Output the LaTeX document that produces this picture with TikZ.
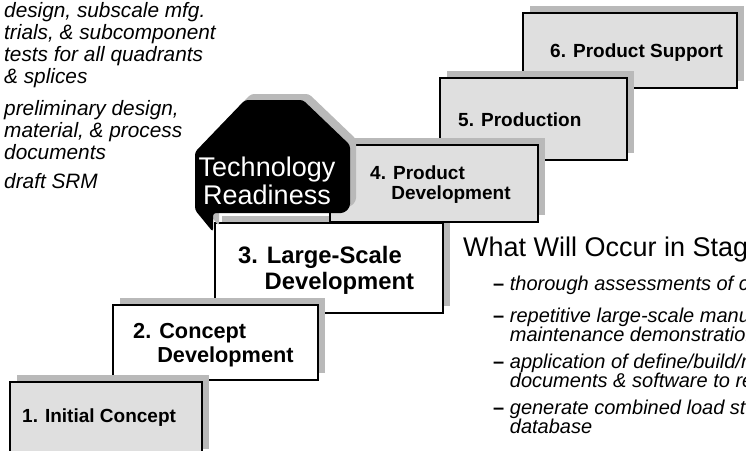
\documentclass[tikz,border=0pt]{standalone}
\usepackage{fontspec}
\setmainfont{Liberation Sans}
\usetikzlibrary{shadows}
\tikzset{
  stagebox/.style  = {draw, line width=1.4pt, inner sep=0pt,
                      general shadow={shadow xshift=7pt, shadow yshift=7pt, fill=gray!55}},
  dotfill/.style   = {fill=gray!25},
  blankfill/.style = {fill=white},
  stagetxt/.style  = {inner sep=0pt, anchor=west, align=left,
                      font=\bfseries\fontsize{19}{20}\selectfont},
  notetxt/.style   = {inner sep=0pt, anchor=base west, align=left,
                      font=\itshape\fontsize{20.8}{22}\selectfont},
  pointtxt/.style  = {inner sep=0pt, anchor=west, align=left,
                      font=\itshape\fontsize{20}{19}\selectfont}
}
\newcommand{\pdash}{{\upshape\bfseries\textendash}\ }

\begin{document}
\begin{tikzpicture}[x=1pt, y=-1pt]
  \useasboundingbox (0,0) rectangle (746,450);
  \clip (0,0) rectangle (746,450);

  % stages, back to front
  \node[stagebox, dotfill, minimum width=214, minimum height=75] (s6) at (630,50.5) {};
  \node[stagetxt] (t6) at (550,53) {6. Product Support};
  \node[stagebox, dotfill, minimum width=187, minimum height=82] (s5) at (533.5,119) {};
  \node[stagetxt] (t5) at (458,120) {5. Production};
  \node[stagebox, blankfill, minimum width=228, minimum height=90] (s3) at (329,268) {};
  \node[stagetxt, font=\bfseries\fontsize{23.8}{26}\selectfont] (t3) at (238,270)
       {3. Large-Scale\\\phantom{3.\ }Development};
  \node[stagebox, dotfill, minimum width=208, minimum height=77] (s4) at (434,183.5) {};
  \node[stagetxt] (t4) at (370,185) {4. Product\\\phantom{4.\ }Development};
  \node[stagebox, blankfill, minimum width=205, minimum height=75] (s2) at (215.5,342.5) {};
  \node[stagetxt, font=\bfseries\fontsize{21.7}{24}\selectfont] (t2) at (133,345)
       {2. Concept\\\phantom{2.\ }Development};
  \node[stagebox, dotfill, minimum width=192, minimum height=74] (s1) at (106,419) {};
  \node[stagetxt] (t1) at (22,418) {1. Initial Concept};

  % technology readiness plate
  \fill[gray!55, rounded corners=3pt, shift={(6,-6)}]
    (245,100) -- (303,100) -- (350,145) -- (350,207) -- (344,213) -- (213,213)
    -- (213,232) -- (195,210) -- (195,152) -- cycle;
  \fill[black, rounded corners=3pt]
    (245,100) -- (303,100) -- (350,145) -- (350,207) -- (344,213) -- (213,213)
    -- (213,232) -- (195,210) -- (195,152) -- cycle;
  \node[inner sep=0pt, align=center, text=white, font=\fontsize{27}{28}\selectfont]
       (tr) at (267,181) {Technology\\Readiness};

  % notes on the left (base = last line)
  \node[notetxt] (n1) at (4,83) {design, subscale mfg.\\trials, \& subcomponent\\tests for all quadrants\\\& splices};
  \node[notetxt] (n2) at (4,159) {preliminary design,\\material, \& process\\documents};
  \node[notetxt] (n3) at (4,188) {draft SRM};

  % what happens in the stage
  \node[inner sep=0pt, anchor=west, font=\fontsize{27}{28}\selectfont] (hd) at (463,250)
       {What Will Occur in Stag};
  \node[pointtxt] (p1) at (493,285) {\pdash thorough assessments of c};
  \node[pointtxt] (p2) at (493,325) {\pdash repetitive large-scale manu\\\phantom{\pdash}maintenance demonstration};
  \node[pointtxt] (p3) at (493,371) {\pdash application of define/build/m\\\phantom{\pdash}documents \& software to re};
  \node[pointtxt] (p4) at (493,417) {\pdash generate combined load st\\\phantom{\pdash}database};
\end{tikzpicture}
\end{document}
